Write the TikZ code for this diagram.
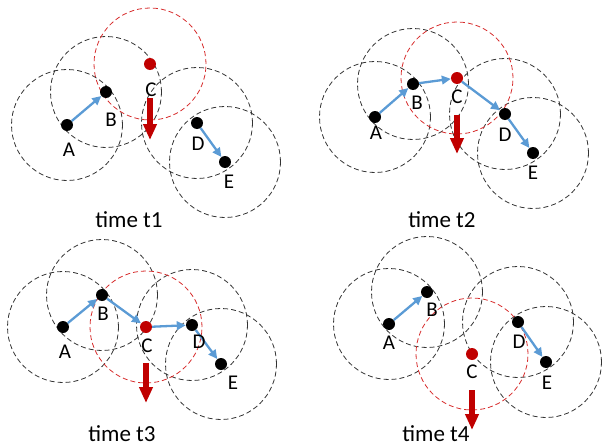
\documentclass[tikz,border=0pt]{standalone}
\usepackage{fontspec}
\setmainfont{Carlito}
\usetikzlibrary{arrows.meta}

\definecolor{linkblue}{RGB}{91,155,213}
\definecolor{nodered}{RGB}{192,0,0}
\definecolor{rangered}{RGB}{215,45,45}

\tikzset{
  commrange/.style={draw=black!80, line width=0.8pt, dash pattern=on 5pt off 3pt},
  redcommrange/.style={draw=rangered, line width=0.8pt, dash pattern=on 5pt off 3pt},
  nodedot/.style={circle, fill=black, inner sep=0pt, minimum size=12pt},
  reddot/.style={nodedot, fill=nodered},
  lbl/.style={inner sep=0pt, font=\fontsize{21}{25}\selectfont},
  captiontext/.style={inner sep=0pt, anchor=base, font=\fontsize{23}{27}\selectfont},
  linkarrow/.style={draw=linkblue, line width=2.3pt, -{Triangle[length=9pt,width=8.5pt]}},
  driftarrow/.style={draw=nodered, line width=6.5pt, -{Triangle[length=16pt,width=13pt]}},
}

\begin{document}
\begin{tikzpicture}[x=1pt, y=-1pt]
  \useasboundingbox (0,0) rectangle (603,447);

  % ---------- time t1 ----------
  \coordinate (pA1) at (67,125);  \coordinate (pB1) at (106,92);
  \coordinate (pC1) at (150,64);  \coordinate (pD1) at (197,123);
  \coordinate (pE1) at (225,162);
  \foreach \p in {A,B,D,E} \draw[commrange] (p\p1) circle[radius=55.5pt];
  \draw[redcommrange] (pC1) circle[radius=56pt];
  \node[nodedot] (A1) at (pA1) {};
  \node[nodedot] (B1) at (pB1) {};
  \node[reddot] (C1) at (pC1) {};
  \node[nodedot] (D1) at (pD1) {};
  \node[nodedot] (E1) at (pE1) {};
  \draw[linkarrow] (A1) -- (B1);
  \draw[linkarrow] (D1) -- (E1);
  \coordinate (m1s) at (150,98); \coordinate (m1e) at (150,140);
  \draw[driftarrow] (m1s) -- (m1e);
  \node[lbl] (lA1) at (69,150) {A};
  \node[lbl] (lB1) at (111,120) {B};
  \node[lbl] (lC1) at (151,90) {C};
  \node[lbl] (lD1) at (198,144) {D};
  \node[lbl] (lE1) at (229,182) {E};
  \node[captiontext] (t1) at (129,227) {time t1};

  % ---------- time t2 ----------
  \coordinate (pA2) at (375,117); \coordinate (pB2) at (413,84);
  \coordinate (pC2) at (457,78);  \coordinate (pD2) at (505,114);
  \coordinate (pE2) at (533,153);
  \foreach \p in {A,B,D,E} \draw[commrange] (p\p2) circle[radius=55.5pt];
  \draw[redcommrange] (pC2) circle[radius=56pt];
  \node[nodedot] (A2) at (pA2) {};
  \node[nodedot] (B2) at (pB2) {};
  \node[reddot] (C2) at (pC2) {};
  \node[nodedot] (D2) at (pD2) {};
  \node[nodedot] (E2) at (pE2) {};
  \draw[linkarrow] (A2) -- (B2);
  \draw[linkarrow] (B2) -- (C2);
  \draw[linkarrow] (C2) -- (D2);
  \draw[linkarrow] (D2) -- (E2);
  \coordinate (m2s) at (457,115); \coordinate (m2e) at (457,154);
  \draw[driftarrow] (m2s) -- (m2e);
  \node[lbl] (lA2) at (376,133) {A};
  \node[lbl] (lB2) at (417,103) {B};
  \node[lbl] (lC2) at (457,97) {C};
  \node[lbl] (lD2) at (505,135) {D};
  \node[lbl] (lE2) at (533,173) {E};
  \node[captiontext] (t2) at (442,227) {time t2};

  % ---------- time t3 ----------
  \coordinate (pA3) at (63,327);  \coordinate (pB3) at (102,295);
  \coordinate (pC3) at (146,327); \coordinate (pD3) at (192,325);
  \coordinate (pE3) at (221,364);
  \foreach \p in {A,B,D,E} \draw[commrange] (p\p3) circle[radius=55.5pt];
  \draw[redcommrange] (pC3) circle[radius=56pt];
  \node[nodedot] (A3) at (pA3) {};
  \node[nodedot] (B3) at (pB3) {};
  \node[reddot] (C3) at (pC3) {};
  \node[nodedot] (D3) at (pD3) {};
  \node[nodedot] (E3) at (pE3) {};
  \draw[linkarrow] (A3) -- (B3);
  \draw[linkarrow] (B3) -- (C3);
  \draw[linkarrow] (C3) -- (D3);
  \draw[linkarrow] (D3) -- (E3);
  \coordinate (m3s) at (146,363); \coordinate (m3e) at (146,403);
  \draw[driftarrow] (m3s) -- (m3e);
  \node[lbl] (lA3) at (65,352) {A};
  \node[lbl] (lB3) at (103,314) {B};
  \node[lbl] (lC3) at (147,346) {C};
  \node[lbl] (lD3) at (199,342) {D};
  \node[lbl] (lE3) at (233,383) {E};
  \node[captiontext] (t3) at (122,441) {time t3};

  % ---------- time t4 ----------
  \coordinate (pA4) at (389,324); \coordinate (pB4) at (427,292);
  \coordinate (pC4) at (472,354); \coordinate (pD4) at (518,322);
  \coordinate (pE4) at (546,362);
  \foreach \p in {A,B,D,E} \draw[commrange] (p\p4) circle[radius=55.5pt];
  \draw[redcommrange] (pC4) circle[radius=56pt];
  \node[nodedot] (A4) at (pA4) {};
  \node[nodedot] (B4) at (pB4) {};
  \node[reddot] (C4) at (pC4) {};
  \node[nodedot] (D4) at (pD4) {};
  \node[nodedot] (E4) at (pE4) {};
  \draw[linkarrow] (A4) -- (B4);
  \draw[linkarrow] (D4) -- (E4);
  \coordinate (m4s) at (472,390); \coordinate (m4e) at (472,430);
  \draw[driftarrow] (m4s) -- (m4e);
  \node[lbl] (lA4) at (389,343) {A};
  \node[lbl] (lB4) at (432,310) {B};
  \node[lbl] (lC4) at (472,372) {C};
  \node[lbl] (lD4) at (519,342) {D};
  \node[lbl] (lE4) at (547,383) {E};
  \node[captiontext] (t4) at (436,441) {time t4};
\end{tikzpicture}
\end{document}
